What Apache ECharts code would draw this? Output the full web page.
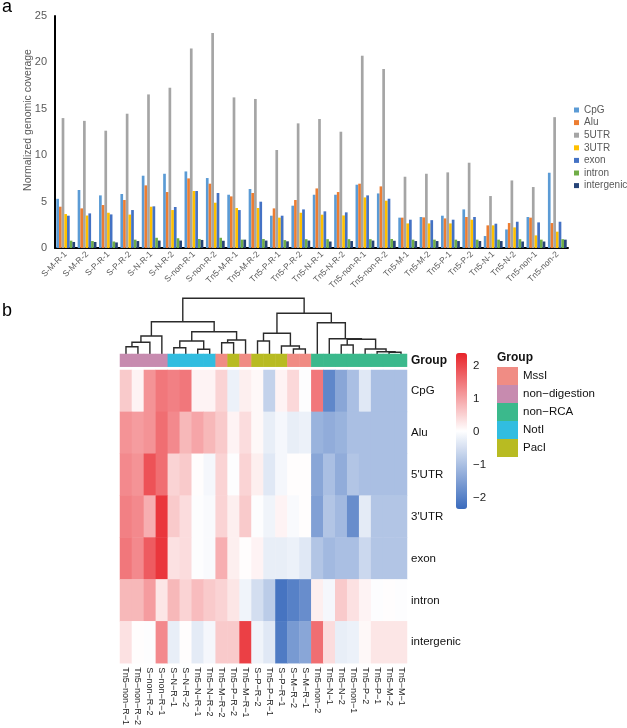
<!DOCTYPE html>
<html><head><meta charset="utf-8">
<script src="https://cdn.jsdelivr.net/npm/echarts@6/dist/echarts.min.js"></script>
<style>html,body{margin:0;padding:0;background:#fff}#c{width:627px;height:728px}</style>
</head><body><div id="c"></div>
<script>
// ---------- Panel a : bar chart data ----------
const barCategories = ['S-M-R-1','S-M-R-2','S-P-R-1','S-P-R-2','S-N-R-1','S-N-R-2','S-non-R-1','S-non-R-2',
  'Tn5-M-R-1','Tn5-M-R-2','Tn5-P-R-1','Tn5-P-R-2','Tn5-N-R-1','Tn5-N-R-2','Tn5-non-R-1','Tn5-non-R-2',
  'Tn5-M-1','Tn5-M-2','Tn5-P-1','Tn5-P-2','Tn5-N-1','Tn5-N-2','Tn5-non-1','Tn5-non-2'];
const barSeriesNames = ['CpG','Alu','5UTR','3UTR','exon','intron','intergenic'];
const cpgVals = [5.3,6.25,5.67,5.82,7.79,8.0,8.25,7.54,5.74,6.36,3.48,4.56,5.74,5.74,6.82,5.88,3.27,3.34,3.48,4.16,1.29,2.0,3.34,8.11];
const aluVals = [4.45,4.27,4.63,5.17,6.75,6.03,7.5,6.93,5.56,5.93,4.27,5.17,6.42,6.03,6.93,6.64,3.27,3.3,3.19,3.34,2.44,2.69,3.27,2.69];
const utr5Vals = [14.0,13.7,12.64,14.47,16.55,17.27,21.5,23.17,16.23,16.06,10.56,13.43,13.9,12.53,20.72,19.29,7.68,8.0,8.15,9.19,5.6,7.28,6.57,14.1];
const utr3Vals = [3.66,3.5,3.8,3.6,4.45,4.09,6.14,4.88,4.31,4.31,3.27,3.8,3.59,3.51,5.45,5.1,2.65,2.65,2.65,3.05,2.44,2.22,1.36,1.76];
const exonVals = [3.48,3.73,3.62,4.09,4.49,4.42,6.14,5.93,4.09,4.99,3.48,4.16,3.95,3.84,5.67,5.31,3.05,3.0,3.05,3.34,2.62,2.83,2.76,2.83];
const intronVals = [0.79,0.75,0.7,0.9,1.1,1.05,0.97,1.1,0.9,0.97,0.85,0.95,0.95,0.95,0.95,0.97,0.9,0.9,0.9,0.9,0.9,0.95,0.9,0.95];
const intergenicVals = [0.65,0.65,0.6,0.75,0.8,0.8,0.87,0.78,0.9,0.8,0.72,0.8,0.7,0.75,0.8,0.78,0.75,0.75,0.75,0.75,0.75,0.7,0.7,0.9];
const barYTicks = {min: 0, max: 25, step: 5};
const barYName = 'Normalized genomic coverage';

// ---------- Panel b : heatmap data ----------
const heatColumns = ['Tn5\u2212non\u2212R\u22121','Tn5\u2212non\u2212R\u22122','S\u2212non\u2212R\u22122','S\u2212non\u2212R\u22121',
  'S\u2212N\u2212R\u22121','S\u2212N\u2212R\u22122','Tn5\u2212N\u2212R\u22121','Tn5\u2212N\u2212R\u22122','Tn5\u2212M\u2212R\u22122',
  'Tn5\u2212P\u2212R\u22122','Tn5\u2212M\u2212R\u22121','S\u2212P\u2212R\u22122','Tn5\u2212P\u2212R\u22121','S\u2212P\u2212R\u22121',
  'S\u2212M\u2212R\u22122','S\u2212M\u2212R\u22121','Tn5\u2212non\u22122','Tn5\u2212N\u22121','Tn5\u2212N\u22122','Tn5\u2212non\u22121',
  'Tn5\u2212P\u22122','Tn5\u2212P\u22121','Tn5\u2212M\u22122','Tn5\u2212M\u22121'];
const heatRows = ['CpG','Alu',"5'UTR","3'UTR",'exon','intron','intergenic'];
const zCpG        = [0.6,0.15,1.2,1.5,1.4,1.5,0.15,0.15,0.5,-0.2,0.2,0.1,-0.7,0.15,0.45,0.0,1.5,-1.9,-1.4,-1.0,-0.35,-1.0,-1.0,-1.0];
const zAlu        = [1.2,1.1,1.2,1.6,1.3,0.8,1.0,0.8,0.6,0.15,0.4,0.1,-0.25,-0.1,-0.25,-0.2,-1.2,-1.3,-1.2,-1.0,-1.0,-1.0,-1.0,-1.0];
const z5UTR       = [1.3,1.2,1.9,1.6,0.5,0.6,0.05,-0.1,0.5,0.0,0.5,0.2,-0.35,-0.1,0.05,0.05,-1.4,-1.0,-1.3,-0.9,-1.0,-1.0,-1.0,-1.0];
const z3UTR       = [1.4,1.3,0.9,2.2,0.6,0.4,0.0,-0.05,0.5,0.2,0.6,0.0,-0.15,0.15,-0.05,0.05,-1.5,-0.9,-1.1,-1.8,-0.3,-0.9,-0.9,-0.9];
const zExon       = [1.5,1.3,1.8,2.2,0.35,0.4,0.0,-0.05,0.9,0.2,0.05,0.15,-0.25,-0.25,-0.2,-0.35,-0.9,-1.1,-1.0,-1.0,-0.6,-0.9,-0.9,-0.9];
const zIntron     = [0.8,0.8,1.1,0.3,0.8,0.5,0.75,0.6,0.5,0.3,-0.15,-0.5,-0.8,-2.2,-2.0,-1.8,0.2,-0.1,0.6,0.35,0.15,0.0,0.05,0.0];
const zIntergenic = [0.35,0.05,0.0,1.3,-0.25,0.05,-0.3,-0.1,0.6,0.6,2.1,-0.15,-0.35,-2.1,-1.6,-1.4,1.6,0.4,-0.25,-0.2,0.1,0.3,0.3,0.3];
const groupNames = ['MssI','non\u2212digestion','non\u2212RCA','NotI','PacI'];
const columnGroup = [1,1,1,1,3,3,3,3,0,4,0,4,4,4,0,0,2,2,2,2,2,2,2,2];
// dendrogram merges (hclust style): negative = leaf column (1-based), positive = earlier merge; third = height
const dendroMerges = [
  [-1,-2,7.3],[1,-3,11.7],[2,-4,18],[-5,-6,6.3],[-7,-8,4.7],[4,5,13],[-9,-10,11.3],[7,-11,14],[6,8,22.3],[3,9,32.3],
  [-12,-13,13],[-15,-16,5],[-14,12,8],[11,13,20.7],
  [-23,-24,1.7],[-22,15,2.3],[-21,16,5],[-19,-20,9],[18,17,14.7],[-18,19,15.3],[-17,20,31.3],[14,21,40.7],[10,22,55.7]
];
const colorbarTicks = [-2,-1,0,1,2];
const colorRange = {min: -2.35, max: 2.4};

// ---------- styles ----------
const barColors = ['#5B9BD5','#ED7D31','#A5A5A5','#FFC000','#4472C4','#70AD47','#264478'];
const groupColors = ['#F08C84','#C78BAF','#3BB98C','#31BDE0','#B8BB22'];
const FONT = 'Liberation Sans, Arial, sans-serif';

const barValueLists = [cpgVals, aluVals, utr5Vals, utr3Vals, exonVals, intronVals, intergenicVals];
const zLists = [zCpG, zAlu, z5UTR, z3UTR, zExon, zIntron, zIntergenic];
const heatData = [];
zLists.forEach((row, r) => row.forEach((v, c) => heatData.push([c, r, v])));
const groupData = columnGroup.map((g, c) => [c, 0, g]);

function renderDendro(params, api) {
  const nodes = [];
  const children = [];
  function pos(ref) {
    if (ref < 0) { const p = api.coord([-ref - 1, 0]); return {x: p[0], y: p[1]}; }
    return nodes[ref - 1];
  }
  dendroMerges.forEach(m => {
    const a = pos(m[0]), b = pos(m[1]);
    const y = api.coord([0, m[2]])[1];
    children.push({type: 'polyline', silent: true,
      shape: {points: [[a.x, a.y], [a.x, y], [b.x, y], [b.x, b.y]]},
      style: {stroke: '#2b2b2b', lineWidth: 1.4, fill: null}});
    nodes.push({x: (a.x + b.x) / 2, y: y});
  });
  return {type: 'group', children: children};
}

const minus = v => (v < 0 ? '\u2212' + (-v) : String(v));

const series = barSeriesNames.map((name, i) => ({
  name: name, type: 'bar', xAxisIndex: 0, yAxisIndex: 0,
  data: barValueLists[i], barGap: '0%', barCategoryGap: '12%',
  itemStyle: {color: barColors[i]}, emphasis: {disabled: true}
}));
series.push({type: 'custom', xAxisIndex: 1, yAxisIndex: 1, data: [[0, 0]], renderItem: renderDendro, silent: true, clip: false});
series.push({type: 'heatmap', xAxisIndex: 2, yAxisIndex: 2, data: groupData, emphasis: {disabled: true}});
series.push({type: 'heatmap', xAxisIndex: 3, yAxisIndex: 3, data: heatData, emphasis: {disabled: true}});

const chart = echarts.init(document.getElementById('c'), null, {renderer: 'canvas'});
chart.setOption({
  animation: false,
  backgroundColor: '#fff',
  textStyle: {fontFamily: FONT},
  graphic: [
    {type: 'text', left: 2, top: -2, style: {text: 'a', fontSize: 18, fontFamily: FONT, fill: '#000'}},
    {type: 'text', left: 2, top: 302, style: {text: 'b', fontSize: 18, fontFamily: FONT, fill: '#000'}},
    {type: 'text', left: 497, top: 352, style: {text: 'Group', fontSize: 12, fontWeight: 'bold', fontFamily: FONT, fill: '#111'}},
    {type: 'text', x: 28, y: 120, rotation: Math.PI / 2,
      style: {text: barYName, fontSize: 10.5, fontFamily: FONT, fill: '#595959', align: 'center', verticalAlign: 'middle'}}
  ],
  legend: {
    data: barSeriesNames, orient: 'vertical', left: 574, top: 105, icon: 'rect',
    itemWidth: 5, itemHeight: 5, itemGap: 2.6, textGap: 2, selectedMode: false, padding: 0,
    textStyle: {fontSize: 10, color: '#595959', fontFamily: FONT}
  },
  grid: [
    {left: 55, right: 59, top: 16, bottom: 480, containLabel: false},
    {left: 120, width: 287, top: 296, height: 58},
    {left: 120, width: 287, top: 354, height: 12.7},
    {left: 120, width: 287, top: 370, height: 298},
    {left: 466, width: 1, top: 353, height: 156}
  ],
  xAxis: [
    {gridIndex: 0, type: 'category', data: barCategories,
      axisLine: {lineStyle: {color: '#000', width: 2}}, axisTick: {show: false},
      axisLabel: {rotate: 45, interval: 0, fontSize: 8.5, color: '#595959', margin: 5}},
    {gridIndex: 1, type: 'value', min: -0.5, max: 23.5, show: false},
    {gridIndex: 2, type: 'category', data: heatColumns, show: false},
    {gridIndex: 3, type: 'category', data: heatColumns,
      axisLine: {show: false}, axisTick: {show: false},
      axisLabel: {rotate: -90, interval: 0, fontSize: 9, color: '#222', margin: 4}},
    {gridIndex: 4, type: 'value', show: false}
  ],
  yAxis: [
    {gridIndex: 0, type: 'value', min: barYTicks.min, max: barYTicks.max, interval: barYTicks.step,
      axisLine: {show: true, lineStyle: {color: '#000', width: 2}}, axisTick: {show: false}, splitLine: {show: false},
      axisLabel: {fontSize: 11, color: '#595959', margin: 8}},
    {gridIndex: 1, type: 'value', min: 0, max: 58, show: false},
    {gridIndex: 2, type: 'category', data: ['Group'], position: 'right',
      axisLine: {show: false}, axisTick: {show: false},
      axisLabel: {fontSize: 12, fontWeight: 'bold', color: '#111', margin: 4}},
    {gridIndex: 3, type: 'category', data: heatRows, inverse: true, position: 'right',
      axisLine: {show: false}, axisTick: {show: false},
      axisLabel: {fontSize: 11.5, color: '#111', margin: 4}},
    {gridIndex: 4, type: 'value', min: colorRange.min, max: colorRange.max, position: 'right',
      axisLine: {show: false}, axisTick: {show: false}, splitLine: {show: false},
      axisLabel: {customValues: colorbarTicks, formatter: minus, fontSize: 11.5, color: '#222', margin: 6}}
  ],
  visualMap: [
    {type: 'continuous', seriesIndex: 9, min: colorRange.min, max: colorRange.max, calculable: false,
      inRange: {color: ['#3A6BBD', '#FFFFFF', '#E8242A']}, left: 456, top: 353, itemWidth: 11, itemHeight: 156,
      padding: 0, hoverLink: false, orient: 'vertical'},
    {type: 'piecewise', seriesIndex: 8, inverse: true, orient: 'vertical', align: 'left',
      pieces: groupNames.map((n, i) => ({value: i, label: n, color: groupColors[i]})),
      left: 497, top: 367, itemWidth: 21, itemHeight: 18, itemGap: 0, textGap: 5, padding: 0,
      itemSymbol: 'rect', selectedMode: false, hoverLink: false,
      textStyle: {fontSize: 11.5, color: '#111', fontFamily: FONT}}
  ],
  series: series
});
</script></body></html>
